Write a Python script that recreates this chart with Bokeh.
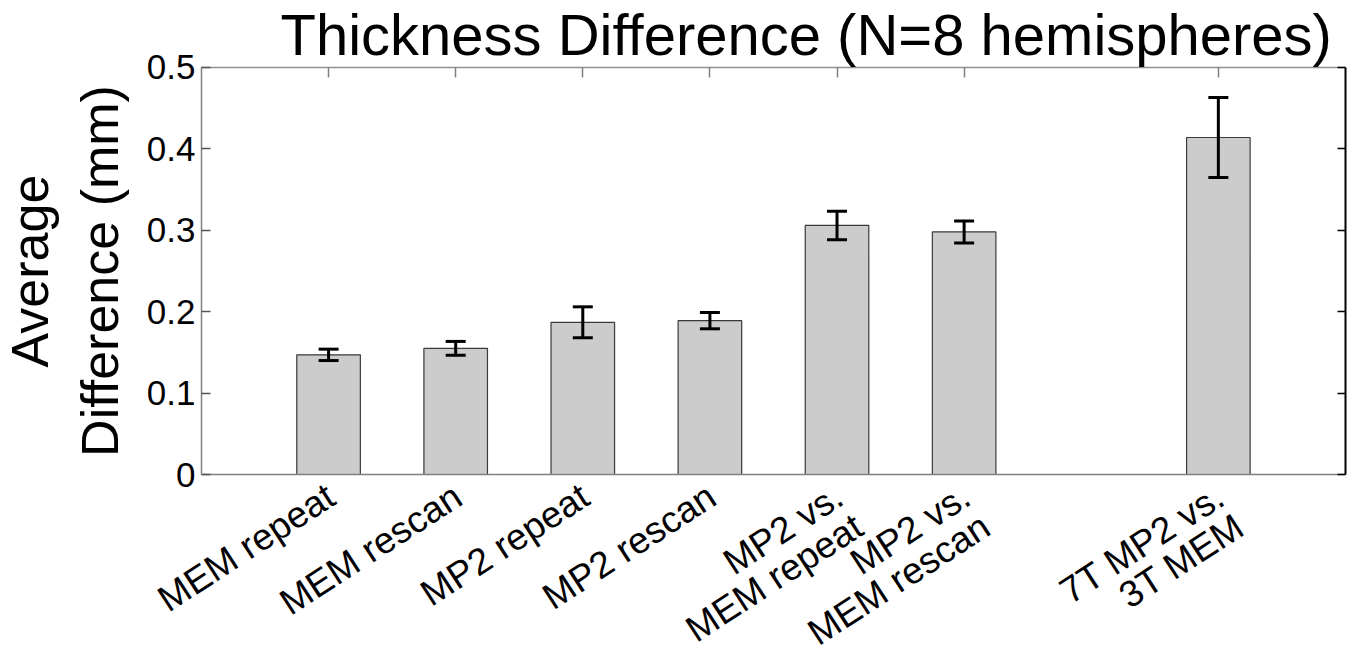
import math
from bokeh.plotting import figure
from bokeh.models import (ColumnDataSource, Whisker, TeeHead, FixedTicker,
                          LinearAxis, Range1d, Label)
from bokeh.embed import file_html
from bokeh.resources import INLINE

# ---------------- data ----------------
categories = ["MEM repeat", "MEM rescan", "MP2 repeat", "MP2 rescan",
              "MP2 vs.\nMEM repeat", "MP2 vs.\nMEM rescan", "7T MP2 vs.\n3T MEM"]
x_pos = [1, 2, 3, 4, 5, 6, 8]
mean_diff = [0.147, 0.155, 0.187, 0.189, 0.306, 0.298, 0.414]
err = [0.007, 0.0085, 0.019, 0.010, 0.0175, 0.0135, 0.049]
y_ticks = [0, 0.1, 0.2, 0.3, 0.4, 0.5]
y_tick_labels = ["0", "0.1", "0.2", "0.3", "0.4", "0.5"]
title_text = "Thickness Difference (N=8 hemispheres)"
y_label = "Average\nDifference (mm)"

FONT = "Liberation Sans"
W, H = 1347, 654
X_MIN, X_MAX = 0, 9          # axis box
Y_MIN, Y_MAX = 0, 0.5
# visible ranges leave room around the axis box for labels and title
X_LEFT, X_RIGHT = -1.581, 9.016
Y_BOTTOM, Y_TOP = -0.2211, 0.5823

p = figure(width=W, height=H, x_range=Range1d(X_LEFT, X_RIGHT),
           y_range=Range1d(Y_BOTTOM, Y_TOP),
           output_backend="svg", toolbar_location=None,
           min_border_left=0, min_border_right=0,
           min_border_top=0, min_border_bottom=0)
p.grid.visible = False
p.outline_line_color = None
p.background_fill_color = "white"
p.border_fill_color = "white"

src = ColumnDataSource(dict(
    x=x_pos, y=mean_diff,
    upper=[m + e for m, e in zip(mean_diff, err)],
    lower=[m - e for m, e in zip(mean_diff, err)],
))

p.vbar(x="x", top="y", width=0.5, source=src, fill_color="#cccccc",
       line_color="#3a3a3a", line_width=1.2)

wh = Whisker(base="x", upper="upper", lower="lower", source=src, level="overlay",
             line_color="black", line_width=3,
             upper_head=TeeHead(size=20, line_color="black", line_width=3),
             lower_head=TeeHead(size=20, line_color="black", line_width=3))
p.add_layout(wh)

# left y axis at x = 0, spanning 0..0.5
ya = p.yaxis[0]
ya.fixed_location = X_MIN
ya.ticker = FixedTicker(ticks=y_ticks)
ya.bounds = (Y_MIN, Y_MAX)
ya.major_label_overrides = {t: s for t, s in zip(y_ticks, y_tick_labels)}
ya.major_tick_in = 9
ya.major_tick_out = 0
ya.minor_tick_line_color = None
ya.axis_line_color = "#808080"
ya.axis_line_width = 1.5
ya.major_tick_line_color = "#555555"
ya.major_tick_line_width = 1.5
ya.major_label_text_font = FONT
ya.major_label_text_font_size = "35px"
ya.major_label_text_color = "black"
ya.major_label_standoff = 6
ya.axis_label = y_label
ya.axis_label_text_font = FONT
ya.axis_label_text_font_size = "52px"
ya.axis_label_text_font_style = "normal"
ya.axis_label_text_color = "black"
ya.axis_label_standoff = 15

# bottom x axis at y = 0 (line only; category labels added below)
xa = p.xaxis[0]
xa.fixed_location = Y_MIN
xa.ticker = FixedTicker(ticks=x_pos)
xa.bounds = (X_MIN, X_MAX)
xa.major_tick_in = 0
xa.major_tick_out = 0
xa.minor_tick_line_color = None
xa.major_label_text_color = None
xa.axis_line_color = "#808080"
xa.axis_line_width = 1.5

# top axis at y = 0.5 with inward ticks, no labels
ta = LinearAxis(ticker=FixedTicker(ticks=x_pos), bounds=(X_MIN, X_MAX),
                fixed_location=Y_MAX)
ta.major_tick_in = 10
ta.major_tick_out = 0
ta.minor_tick_line_color = None
ta.major_label_text_color = None
ta.axis_line_color = "#909090"
ta.axis_line_width = 1.5
ta.major_tick_line_color = "#808080"
ta.major_tick_line_width = 1.5
p.add_layout(ta, "above")

# right axis at x = 9 with inward ticks, no labels
ra = LinearAxis(ticker=FixedTicker(ticks=y_ticks), bounds=(Y_MIN, Y_MAX),
                fixed_location=X_MAX)
ra.major_tick_in = 8
ra.major_tick_out = 0
ra.minor_tick_line_color = None
ra.major_label_text_color = None
ra.axis_line_color = "black"
ra.axis_line_width = 2
ra.major_tick_line_color = "black"
ra.major_tick_line_width = 1.5
p.add_layout(ra, "right")

# title
p.add_layout(Label(x=280, y=H - 1, x_units="screen", y_units="screen",
                   text=title_text, text_align="left", text_baseline="top",
                   text_font=FONT, text_font_size="58px", text_color="black"))

# slanted category labels, right-aligned at each tick, one Label per line
ANG = 33
FS = 37
LH = 36
sa, ca = math.sin(math.radians(ANG)), math.cos(math.radians(ANG))
for xp, cat in zip(x_pos, categories):
    for k, line in enumerate(cat.split("\n")):
        p.add_layout(Label(x=xp, y=Y_MIN, x_units="data", y_units="data", text=line,
                           angle=ANG, angle_units="deg", text_align="right",
                           text_baseline="top",
                           x_offset=-9 + k * LH * sa, y_offset=-1 - k * LH * ca,
                           text_font=FONT, text_font_size=f"{FS}px",
                           text_color="black"))

open("out.html", "w").write(file_html(p, INLINE))
